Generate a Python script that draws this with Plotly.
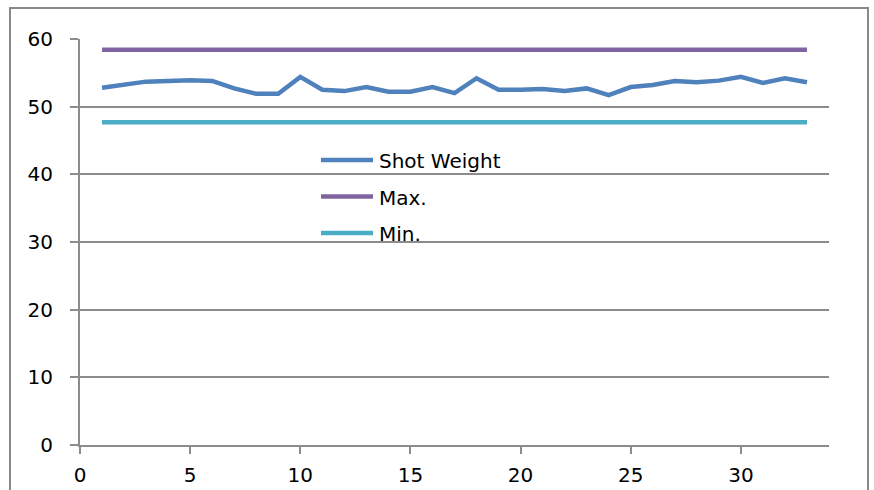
import plotly.graph_objects as go

# ── DATA ──────────────────────────────────────────────────
shots = list(range(1, 34))
shot_weight = [52.8, 53.2, 53.7, 53.8, 53.9, 53.8, 52.7, 51.9, 51.9, 54.4,
               52.5, 52.3, 52.9, 52.2, 52.2, 52.9, 52.0, 54.2, 52.5, 52.5,
               52.6, 52.3, 52.7, 51.7, 52.9, 53.2, 53.8, 53.6, 53.85, 54.4,
               53.5, 54.2, 53.6]
max_limit = [58.4] * len(shots)
min_limit = [47.7] * len(shots)
series_names = ["Shot Weight", "Max.", "Min."]

# ── STYLE ─────────────────────────────────────────────────
BLUE   = "#4F81BD"
PURPLE = "#8064A2"
TEAL   = "#4BACC6"
GRID   = "#8C8C8C"
FONT   = "DejaVu Sans"
colors = [BLUE, PURPLE, TEAL]

fig = go.Figure()
for name, ys, col in zip(series_names, [shot_weight, max_limit, min_limit], colors):
    fig.add_trace(go.Scatter(x=shots, y=ys, mode="lines", name=name,
                             line=dict(color=col, width=4.5)))

W, H = 874, 490
L, R, T, B = 80, 45, 39, 45
pw, ph = W - L - R, H - T - B

def px_x(x):  # pixel -> paper x
    return (x - L) / pw

def px_y(y):  # pixel -> paper y
    return (H - B - y) / ph

shapes = [dict(type="rect", xref="paper", yref="paper",
               x0=px_x(10), x1=px_x(868), y0=px_y(520), y1=px_y(8),
               line=dict(color="#8A8A8A", width=2), layer="below")]
annotations = []

# legend drawn by hand so the sample lines are as long as in the original
for i, (name, col) in enumerate(zip(series_names, colors)):
    yy = 160 + i * 36.5
    shapes.append(dict(type="line", xref="paper", yref="paper",
                       x0=px_x(321), x1=px_x(373), y0=px_y(yy), y1=px_y(yy),
                       line=dict(color=col, width=4.5)))
    annotations.append(dict(xref="paper", yref="paper", x=px_x(377), y=px_y(yy + 1),
                            text=name, showarrow=False, xanchor="left", yanchor="middle",
                            font=dict(size=20, family=FONT, color="#000000")))

fig.update_layout(
    width=W, height=H,
    margin=dict(l=L, r=R, t=T, b=B),
    plot_bgcolor="white", paper_bgcolor="white",
    font=dict(family=FONT, size=20, color="#000000"),
    showlegend=False,
    shapes=shapes,
    annotations=annotations,
)
fig.update_xaxes(
    range=[0, 34], tickvals=[0, 5, 10, 15, 20, 25, 30],
    showgrid=False, zeroline=False, automargin=False,
    showline=True, linecolor=GRID, linewidth=2,
    ticks="outside", ticklen=7, tickcolor=GRID, tickwidth=1.5,
    ticklabelstandoff=4,
    tickfont=dict(size=20, family=FONT),
)
fig.update_yaxes(
    range=[0, 60], tickvals=[0, 10, 20, 30, 40, 50, 60],
    showgrid=True, gridcolor=GRID, gridwidth=1.5, zeroline=False, automargin=False,
    showline=True, linecolor=GRID, linewidth=2,
    ticks="outside", ticklen=8, tickcolor=GRID, tickwidth=1.5,
    ticklabelstandoff=13,
    tickfont=dict(size=20, family=FONT),
)

fig.write_html("out.html", config={"displayModeBar": False},
               post_script="document.body.style.margin='0';")
